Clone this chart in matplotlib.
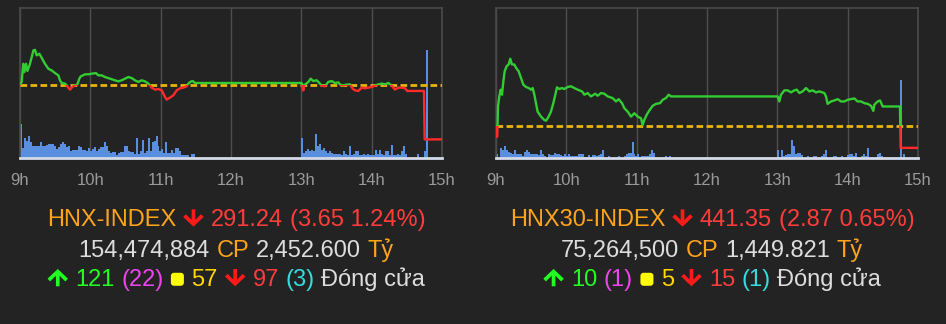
import numpy as np
import matplotlib
matplotlib.use("Agg")
import matplotlib.pyplot as plt
from matplotlib.patches import Rectangle, Polygon, FancyBboxPatch
from matplotlib.offsetbox import TextArea, HPacker, AnnotationBbox, DrawingArea

BG = '#232323'
FONT = ['Liberation Sans', 'DejaVu Sans']

ORANGE = '#ffa31a'
RED = '#ff3c3c'
RED_ARROW = '#ff1a1a'
GREY = '#dddddd'
GREEN = '#22ff22'
MAGENTA = '#ee44ee'
YELLOW = '#ffd700'
YELLOW_SQ = '#ffff00'
CYAN = '#33dddd'

LINE_UP = '#33cc33'
LINE_DOWN = '#ff2a2a'
REF_COLOR = '#e8b40c'
VOL_COLOR = '#5a8fe0'

# x axis is minutes after 9:00
HOUR_TICKS = [0, 60, 120, 180, 240, 300, 360]
HOUR_LABELS = ['9h', '10h', '11h', '12h', '13h', '14h', '15h']
VOL_STEP = 1.7   # minutes per volume bar
AM_START = 0
PM_START = 240

## HNX-INDEX ###############################################

hnx_ref = 294.89
hnx_ylim = (290.0, 300.0)
hnx_t = [0.0, 1.4, 2.8, 3.7, 5.1, 6.3, 8.5, 10.0, 11.4, 12.8, 14.2, 16.5, 18.5,
         21.3, 24.2, 27.0, 29.9, 32.7, 34.1, 35.5, 38.4, 39.8, 41.2, 42.7, 44.1,
         46.1, 48.9, 50.6, 51.8, 55.5, 58.3, 61.1, 64.8, 66.8, 69.7, 72.5, 76.8,
         81.0, 83.9, 86.7, 89.6, 92.4, 95.3, 98.1, 100.9, 103.8, 106.6, 109.5,
         112.3, 115.2, 118.0, 120.9, 123.7, 125.1, 128.0, 130.8, 133.7, 136.5,
         139.3, 142.2, 143.6, 145.6, 147.3, 149.3, 240.3, 241.7, 242.3, 246.0,
         248.0, 250.2, 253.1, 255.4, 257.3, 260.2, 263.0, 265.9, 268.7, 271.6,
         273.0, 275.8, 278.7, 281.5, 283.8, 285.8, 288.6, 291.5, 294.3, 297.2,
         300.0, 302.8, 305.7, 308.5, 311.4, 314.2, 317.1, 319.9, 322.7, 325.6,
         328.4, 330.4, 344.6, 345.2, 360.0]
hnx_v = [294.89, 295.07, 296.28, 295.73, 296.28, 295.80, 296.28, 296.73, 297.17,
         297.21, 296.84, 296.95, 296.68, 296.28, 295.95, 295.84, 295.66, 295.51,
         295.18, 295.00, 294.96, 294.85, 294.69, 294.56, 294.69, 294.82, 294.89,
         295.29, 295.44, 295.58, 295.58, 295.62, 295.66, 295.51, 295.51, 295.40,
         295.29, 295.18, 295.11, 295.18, 295.29, 295.40, 295.33, 295.18, 295.07,
         295.18, 295.11, 294.96, 294.69, 294.56, 294.60, 294.51, 294.07, 293.89,
         294.03, 294.18, 294.51, 294.65, 294.69, 294.78, 294.96, 295.09, 295.13,
         295.00, 295.00, 294.51, 294.85, 295.07, 295.29, 295.13, 295.18, 295.00,
         294.82, 294.78, 295.07, 295.13, 295.00, 295.04, 294.89, 294.85, 294.89,
         294.91, 294.62, 294.51, 294.47, 294.69, 294.65, 294.69, 294.74, 294.82,
         294.91, 294.96, 294.91, 295.00, 294.82, 294.56, 294.69, 294.69, 294.65,
         294.47, 294.47, 291.24, 291.24]
hnx_vol_am = [34, 10, 20, 17, 22, 16, 12, 12, 12, 12, 16, 12, 12, 13, 14, 14, 14,
              12, 9, 11, 14, 16, 14, 11, 12, 7, 8, 8, 8, 12, 11, 8, 8, 7, 10, 7,
              9, 11, 7, 9, 11, 11, 16, 12, 7, 5, 6, 6, 3, 5, 6, 6, 12, 12, 7, 6,
              6, 4, 20, 4, 7, 18, 5, 7, 20, 7, 16, 17, 22, 12, 7, 9, 5, 16, 5, 5,
              8, 5, 10, 10, 7, 3, 3, 3, 3, 1, 4, 4]
hnx_vol_pm = [20, 5, 7, 9, 7, 8, 7, 24, 12, 14, 8, 10, 7, 5, 7, 5, 4, 4, 4, 4, 3,
              7, 4, 3, 12, 3, 4, 7, 7, 3, 3, 4, 3, 4, 3, 3, 3, 8, 4, 8, 4, 3, 7,
              7, 3, 13, 3, 3, 4, 3, 7, 12, 4]
hnx_atc_t = [338.4, 344.5, 346.0]
hnx_atc_v = [4, 7, 108]

hnx_title = [('HNX-INDEX', ORANGE), ('DOWN', RED_ARROW), ('291.24', RED),
             ('(3.65 1.24%)', RED)]
hnx_trade = [('154,474,884', GREY), ('CP', ORANGE), ('2,452.600', GREY),
             ('Tỷ', ORANGE)]
hnx_breadth = [('UP', GREEN), ('121', GREEN), ('(22)', MAGENTA),
               ('SQUARE', YELLOW_SQ), ('57', YELLOW), ('DOWN', RED_ARROW),
               ('97', RED), ('(3)', CYAN), ('Đóng cửa', GREY)]

## HNX30-INDEX #############################################

hnx30_ref = 444.22
hnx30_ylim = (440.0, 460.0)
hnx30_t = [0.0, 0.3, 1.1, 1.7, 2.8, 4.0, 5.1, 6.3, 7.4, 9.1, 10.8, 12.2, 13.6,
           15.6, 17.1, 19.3, 21.3, 23.3, 25.6, 27.9, 29.9, 31.3, 32.7, 34.1,
           35.5, 38.4, 41.2, 42.7, 44.9, 46.9, 48.9, 50.6, 52.0, 54.0, 56.3,
           58.3, 61.1, 64.0, 66.8, 69.7, 73.4, 75.4, 78.2, 81.0, 84.7, 86.7,
           89.6, 92.4, 95.3, 99.5, 102.4, 104.6, 107.5, 109.5, 112.3, 115.2,
           118.0, 120.9, 123.7, 125.1, 126.5, 128.5, 130.8, 133.7, 136.5, 139.9,
           142.2, 145.0, 147.3, 149.3, 240.3, 241.7, 243.1, 246.0, 248.8, 251.7,
           254.5, 256.5, 258.8, 261.6, 264.5, 267.3, 270.1, 273.0, 275.8, 280.1,
           281.5, 282.9, 285.8, 288.6, 291.5, 294.3, 297.2, 300.0, 302.8, 305.7,
           308.5, 311.4, 314.2, 317.1, 319.9, 321.9, 322.7, 325.6, 327.6, 329.9,
           344.6, 345.2, 360.0]
hnx30_v = [444.18, 442.83, 442.83, 446.87, 448.21, 449.11, 448.44, 450.23,
           451.57, 452.25, 452.47, 453.23, 452.47, 452.47, 452.02, 451.57,
           450.68, 449.78, 449.47, 449.33, 449.11, 449.33, 448.44, 447.31,
           446.19, 445.52, 445.07, 444.98, 445.52, 446.19, 447.31, 448.44,
           449.42, 449.20, 449.33, 449.20, 449.47, 449.56, 449.33, 449.11,
           448.88, 448.44, 448.66, 448.21, 448.57, 448.30, 448.66, 448.57,
           448.21, 447.99, 447.54, 447.85, 447.31, 446.64, 446.19, 445.52,
           445.97, 445.52, 445.30, 444.40, 445.07, 445.74, 446.33, 446.96,
           447.22, 447.31, 447.76, 447.99, 448.44, 448.21, 448.21, 447.54,
           448.44, 449.02, 449.02, 448.75, 449.02, 449.11, 448.66, 448.88,
           449.33, 448.88, 449.02, 448.75, 448.88, 448.66, 448.21, 447.22,
           447.54, 447.67, 447.85, 447.54, 447.54, 447.76, 447.85, 447.94,
           447.54, 447.54, 447.31, 447.22, 446.96, 446.28, 447.09, 447.54,
           447.67, 446.87, 446.87, 441.35, 441.35]
hnx30_vol_am = [4, 0, 10, 8, 12, 8, 6, 5, 4, 8, 4, 4, 4, 2, 6, 8, 6, 4, 4, 4, 4,
                3, 8, 4, 2, 0, 4, 3, 3, 5, 4, 4, 3, 2, 4, 2, 4, 2, 2, 2, 2, 4, 4,
                4, 1, 1, 3, 1, 3, 3, 2, 3, 4, 8, 0, 0, 2, 0, 0, 0, 0, 2, 0, 0, 2,
                4, 5, 5, 16, 4, 2, 4, 1, 2, 2, 2, 2, 4, 8, 5, 0, 0, 0, 0, 0, 2, 0,
                2]
hnx30_vol_pm = [8, 0, 8, 2, 3, 4, 4, 18, 12, 4, 5, 5, 3, 0, 0, 2, 0, 0, 2, 2, 0,
                0, 2, 4, 8, 0, 0, 0, 2, 2, 0, 0, 2, 0, 0, 3, 4, 4, 2, 5, 0, 0, 2,
                4, 2, 10, 0, 0, 0, 0, 4, 5, 2]
hnx30_atc_t = [344.9, 347.0]
hnx30_atc_v = [78, 4]

hnx30_title = [('HNX30-INDEX', ORANGE), ('DOWN', RED_ARROW), ('441.35', RED),
               ('(2.87 0.65%)', RED)]
hnx30_trade = [('75,264,500', GREY), ('CP', ORANGE), ('1,449.821', GREY),
               ('Tỷ', ORANGE)]
hnx30_breadth = [('UP', GREEN), ('10', GREEN), ('(1)', MAGENTA),
                 ('SQUARE', YELLOW_SQ), ('5', YELLOW), ('DOWN', RED_ARROW),
                 ('15', RED), ('(1)', CYAN), ('Đóng cửa', GREY)]

# thick chevron arrow drawn in pixels, pointing down
ARROW_DOWN = [(10, 0), (19.5, 9.0), (17, 11.5), (11.7, 6.2), (11.7, 16),
              (8.3, 16), (8.3, 6.2), (3, 11.5), (0.5, 9.0)]
PX = 0.72   # points per pixel at dpi 100


def draw_panel(fig, left, ref, t, v, vol_am, vol_pm, atc_t, atc_v, ylim):
    W, H = 946.0, 324.0
    rect = [left / W, (H - 158) / H, 422 / W, 150 / H]

    # volume on the base axes
    vax = fig.add_axes(rect)
    vax.set_facecolor(BG)
    am_x = AM_START + VOL_STEP * np.arange(len(vol_am))
    pm_x = PM_START + VOL_STEP * np.arange(len(vol_pm))
    vax.bar(am_x, vol_am, width=VOL_STEP, align='edge', color=VOL_COLOR, lw=0)
    vax.bar(pm_x, vol_pm, width=VOL_STEP, align='edge', color=VOL_COLOR, lw=0)
    vax.bar(atc_t, atc_v, width=VOL_STEP, align='edge', color=VOL_COLOR, lw=0)
    vax.set_ylim(0, 150)
    vax.set_xlim(0, 360)
    vax.set_yticks([])
    vax.set_xticks(HOUR_TICKS)
    vax.set_xticklabels(HOUR_LABELS, family=FONT, fontsize=12, color='#9a9a9a')
    vax.tick_params(axis='x', length=0, pad=11)
    vax.grid(axis='x', color='#4f4f4f', lw=1)
    vax.set_axisbelow(True)
    for side in ['top', 'left', 'right']:
        vax.spines[side].set_color('#4a4a4a')
        vax.spines[side].set_linewidth(1.2)
    vax.spines['bottom'].set_color('#d4dae8')
    vax.spines['bottom'].set_linewidth(2)

    # price on a twin axes, green above the reference, red below
    pax = vax.twinx()
    pax.patch.set_visible(False)
    pax.set_ylim(*ylim)
    pax.set_yticks([])
    for s in pax.spines.values():
        s.set_visible(False)
    pax.axhline(ref, color=REF_COLOR, lw=2.0, ls=(0, (2.4, 1.2)), zorder=2)
    up, = pax.plot(t, v, color=LINE_UP, lw=1.7, zorder=3)
    down, = pax.plot(t, v, color=LINE_DOWN, lw=1.7, zorder=3)
    up.set_clip_path(Rectangle((0, ref), 360, 100, transform=pax.transData))
    down.set_clip_path(Rectangle((0, ref - 100), 360, 100,
                                 transform=pax.transData))
    return vax


def icon(kind, color):
    if kind == 'SQUARE':
        da = DrawingArea(15 * PX, 13 * PX, 0, 0, clip=False)
        da.add_artist(FancyBboxPatch((1 * PX, 0), 13 * PX, 13 * PX,
                                     boxstyle='round,pad=0,rounding_size=2.2',
                                     fc=color, ec='none'))
        return da
    pts = ARROW_DOWN if kind == 'DOWN' else [(x, 16 - y) for x, y in ARROW_DOWN]
    s = 1.08
    pts = [(x * s * PX, (y * s - 0.5) * PX) for x, y in pts]
    da = DrawingArea(20 * s * PX, 16 * s * PX, 0, 0, clip=False)
    da.add_artist(Polygon(pts, closed=True, fc=color, ec='none'))
    return da


def text_row(fig, pieces, x_px, y_px, size):
    boxes = []
    for s, c in pieces:
        if s in ('UP', 'DOWN', 'SQUARE'):
            boxes.append(icon(s, c))
        else:
            boxes.append(TextArea(s, textprops=dict(color=c, fontsize=size,
                                                    family=FONT)))
    row = HPacker(children=boxes, align='baseline', pad=0, sep=size * 0.278)
    ab = AnnotationBbox(row, (x_px / 946.0, 1 - y_px / 324.0),
                        xycoords='figure fraction', frameon=False,
                        box_alignment=(0.5, 0.5), pad=0)
    fig.add_artist(ab)


fig = plt.figure(figsize=(9.46, 3.24), dpi=100)
fig.patch.set_facecolor(BG)

draw_panel(fig, 20, hnx_ref, hnx_t, hnx_v, hnx_vol_am, hnx_vol_pm,
           hnx_atc_t, hnx_atc_v, hnx_ylim)
draw_panel(fig, 496, hnx30_ref, hnx30_t, hnx30_v, hnx30_vol_am, hnx30_vol_pm,
           hnx30_atc_t, hnx30_atc_v, hnx30_ylim)

for cx, rows in [(236, [hnx_title, hnx_trade, hnx_breadth]),
                 (712, [hnx30_title, hnx30_trade, hnx30_breadth])]:
    for y, row in zip([220, 250, 279], rows):
        text_row(fig, row, cx, y, 17)

fig.savefig('out.png', dpi=100, facecolor=BG)
